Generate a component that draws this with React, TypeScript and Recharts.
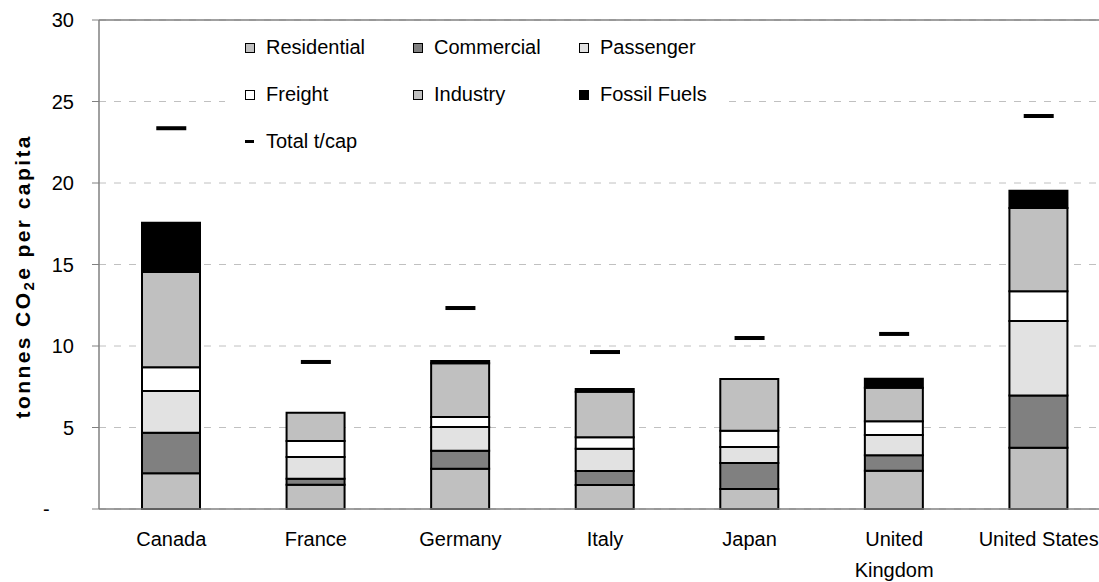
import React from 'react';
import { BarChart, Bar, Line, XAxis, YAxis, CartesianGrid, Legend, ReferenceLine } from 'recharts';

const categories = ['Canada', 'France', 'Germany', 'Italy', 'Japan', 'United Kingdom', 'United States'];
const residential = [2.19, 1.49, 2.47, 1.47, 1.23, 2.35, 3.76];
const commercial = [2.49, 0.37, 1.11, 0.86, 1.59, 0.94, 3.21];
const passenger = [2.56, 1.33, 1.45, 1.37, 0.98, 1.25, 4.56];
const freight = [1.45, 0.98, 0.61, 0.7, 1.0, 0.84, 1.83];
const industry = [5.85, 1.74, 3.3, 2.8, 3.17, 2.06, 5.11];
const fossilFuels = [3.02, 0, 0.14, 0.16, 0, 0.55, 1.06];
const totalPerCapita = [23.36, 9.02, 12.33, 9.63, 10.49, 10.74, 24.11];
const yTicks = [0, 5, 10, 15, 20, 25, 30];
const edgeTicks = [0, 1, 2, 3, 4, 5, 6, 7];

const data = categories.map((country, i) => ({
  country,
  residential: residential[i],
  commercial: commercial[i],
  passenger: passenger[i],
  freight: freight[i],
  industry: industry[i],
  fossil: fossilFuels[i],
  total: totalPerCapita[i],
}));

const series = [
  { key: 'residential', name: 'Residential', fill: '#C0C0C0' },
  { key: 'commercial', name: 'Commercial', fill: '#808080' },
  { key: 'passenger', name: 'Passenger', fill: '#E2E2E2' },
  { key: 'freight', name: 'Freight', fill: '#FFFFFF' },
  { key: 'industry', name: 'Industry', fill: '#C0C0C0' },
  { key: 'fossil', name: 'Fossil Fuels', fill: '#000000' },
];
const legendOrder = ['residential', 'commercial', 'passenger', 'freight', 'industry', 'fossil', 'total'];

const FONT = "'Liberation Sans', Arial, Helvetica, sans-serif";
const AXIS = '#808080';

const YTick = (props: any) => {
  const { x, y, payload } = props;
  const isZero = payload.value === 0;
  return (
    <text
      x={isZero ? x - 31 : x}
      y={y}
      dy="0.36em"
      textAnchor={isZero ? 'start' : 'end'}
      fontSize={20}
      fontFamily={FONT}
      fill="#000"
    >
      {isZero ? '-' : payload.value}
    </text>
  );
};

// wrap long category names onto two lines, like the reference
const splitLabel = (label: string): string[] => {
  if (label.length <= 13) return [label];
  const idx = label.lastIndexOf(' ');
  return idx > 0 ? [label.slice(0, idx), label.slice(idx + 1)] : [label];
};

const XTick = (props: any) => {
  const { x, y, payload } = props;
  const lines = splitLabel(String(payload.value));
  return (
    <text x={x} y={y} textAnchor="middle" fontSize={20} fontFamily={FONT} fill="#000">
      {lines.map((ln, i) => (
        <tspan key={i} x={x} dy={i === 0 ? '0.71em' : 31}>
          {ln}
        </tspan>
      ))}
    </text>
  );
};

const EmptyTick = () => <g />;

const renderYLabel = (props: any) => {
  const vb = props && props.viewBox ? props.viewBox : { x: 0, y: 20, width: 99, height: 489 };
  const cx = vb.x + 30;
  const cy = vb.y + vb.height / 2 + 13;
  return (
    <text
      x={cx}
      y={cy}
      transform={`rotate(-90 ${cx} ${cy})`}
      textAnchor="middle"
      fontSize={21}
      fontWeight="bold"
      fontFamily={FONT}
      fill="#000"
      textLength={282}
      lengthAdjust="spacing"
    >
      tonnes CO
      <tspan fontSize={15} dy={4}>2</tspan>
      <tspan dy={-4}>e per capita</tspan>
    </text>
  );
};

const renderDash = (props: any) => {
  const { cx, cy, index } = props;
  if (cx == null || cy == null) return <g key={`d${index}`} />;
  return <rect key={`d${index}`} x={cx - 15} y={cy - 2} width={30} height={4} fill="#000" />;
};

const renderLegend = (props: any) => {
  const payload = [...(props.payload || [])].sort(
    (a: any, b: any) => legendOrder.indexOf(String(a.dataKey)) - legendOrder.indexOf(String(b.dataKey))
  );
  return (
    <div
      style={{
        width: 500,
        height: 148,
        background: '#fff',
        boxSizing: 'border-box',
        paddingLeft: 20,
        paddingTop: 2,
        display: 'grid',
        gridTemplateColumns: '168px 166px 166px',
        gridAutoRows: '47px',
        fontFamily: FONT,
        fontSize: 20,
        color: '#000',
      }}
    >
      {payload.map((entry: any) => {
        const s = series.find((it) => it.key === entry.dataKey);
        const icon = s ? (
          <span
            style={{
              display: 'inline-block',
              width: 10,
              height: 10,
              boxSizing: 'border-box',
              border: '1px solid #000',
              background: s.fill,
              marginRight: 11,
              flex: 'none',
            }}
          />
        ) : (
          <span style={{ display: 'inline-block', width: 10, height: 10, marginRight: 11, position: 'relative', flex: 'none' }}>
            <span style={{ position: 'absolute', left: 0, top: 3, width: 9, height: 3, background: '#000' }} />
          </span>
        );
        return (
          <div key={String(entry.dataKey)} style={{ display: 'flex', alignItems: 'center', whiteSpace: 'nowrap' }}>
            {icon}
            <span>{entry.value}</span>
          </div>
        );
      })}
    </div>
  );
};

export default function App() {
  return (
    <div style={{ position: 'absolute', left: 0, top: 0, width: 1099, height: 582, overflow: 'hidden', background: '#fff' }}>
      <BarChart width={1121} height={582} data={data} margin={{ top: 20, right: 10, left: 0, bottom: 0 }}>
        <XAxis
          xAxisId="edges"
          type="number"
          domain={[0, 7]}
          ticks={edgeTicks}
          allowDataOverflow
          height={0}
          axisLine={false}
          tickLine={{ stroke: AXIS }}
          tickSize={6}
          tick={EmptyTick}
          interval={0}
        />
        <XAxis
          xAxisId="cat"
          dataKey="country"
          height={73}
          interval={0}
          tickLine={false}
          tickSize={0}
          tickMargin={23}
          axisLine={{ stroke: AXIS, strokeWidth: 1.5 }}
          tick={XTick}
        />
        <YAxis
          domain={[0, 30]}
          ticks={yTicks}
          interval={0}
          width={99}
          tickSize={7}
          tickMargin={18}
          axisLine={{ stroke: AXIS, strokeWidth: 1.5 }}
          tickLine={{ stroke: AXIS }}
          tick={YTick}
          label={{ content: renderYLabel }}
        />
        <CartesianGrid xAxisId="cat" vertical={false} stroke="#C0C0C0" strokeDasharray="7 8" />
        <ReferenceLine xAxisId="cat" y={30} stroke={AXIS} strokeWidth={1.5} />
        <Legend
          layout="vertical"
          align="center"
          verticalAlign="middle"
          content={renderLegend}
          wrapperStyle={{ left: 225, top: 22, width: 500, height: 148 }}
        />
        {series.map((s) => (
          <Bar
            key={s.key}
            xAxisId="cat"
            dataKey={s.key}
            name={s.name}
            stackId="a"
            fill={s.fill}
            stroke="#000"
            strokeWidth={2}
            barSize={58}
            isAnimationActive={false}
          />
        ))}
        <Line
          xAxisId="cat"
          dataKey="total"
          name="Total t/cap"
          stroke="none"
          legendType="plainline"
          dot={renderDash}
          activeDot={false}
          isAnimationActive={false}
        />
      </BarChart>
    </div>
  );
}
